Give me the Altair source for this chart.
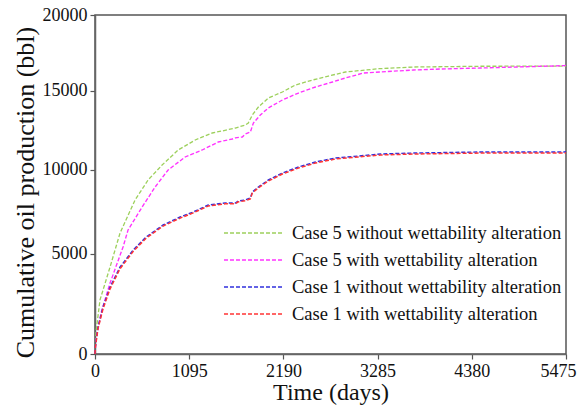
import altair as alt
import pandas as pd

# Series names, in legend order
SERIES = [
    "Case 5 without wettability alteration",
    "Case 5 with wettability alteration",
    "Case 1 without wettability alteration",
    "Case 1 with wettability alteration",
]
COLORS = ["#9dd05c", "#ff33ff", "#3030dd", "#ff3434"]
WIDTHS = [1.3, 1.5, 2.0, 2.0]

X_TICKS = [0, 1095, 2190, 3285, 4380, 5475]
Y_TICKS = [0, 5000, 10000, 15000, 20000]

# Cumulative oil production (bbl) against time (days)
case5_without_days = [0, 12, 58, 175, 291, 466, 617, 780, 967, 1165, 1363, 1479,
                      1631, 1747, 1782, 1829, 1899, 2015, 2178, 2330, 2528, 2714,
                      2912, 3300, 3704, 4485, 5452, 5475]
case5_without_oil = [0, 900, 2480, 4264, 6202, 8160, 9374, 10296, 11230, 11858,
                     12300, 12430, 12616, 12806, 12934, 13444, 13956, 14536, 14924,
                     15378, 15702, 15962, 16224, 16440, 16552, 16600, 16610, 16610]

case5_with_days = [0, 15, 70, 175, 326, 384, 548, 699, 850, 1048, 1246, 1433, 1596,
                   1631, 1712, 1747, 1806, 1841, 1922, 2015, 2178, 2365, 2563, 2761,
                   2912, 3122, 3704, 4019, 4485, 5452, 5475]
case5_with_oil = [0, 650, 1814, 3384, 5394, 6378, 7738, 8946, 9988, 10794, 11230,
                  11732, 11920, 11990, 12048, 12236, 12364, 12934, 13444, 13892,
                  14406, 14858, 15246, 15574, 15834, 16160, 16356, 16420, 16486,
                  16640, 16660]

case1_without_days = [0, 3, 35, 93, 175, 291, 443, 594, 792, 990, 1142, 1316, 1514,
                      1631, 1666, 1747, 1806, 1829, 1899, 2015, 2178, 2365, 2563,
                      2796, 3064, 3320, 3704, 4485, 5452, 5475]
case1_without_oil = [0, 243, 1128, 2118, 3168, 4264, 5220, 5972, 6672, 7144, 7440,
                     7858, 7978, 7978, 8098, 8160, 8280, 8642, 8946, 9374, 9802,
                     10174, 10482, 10732, 10856, 10980, 11040, 11106, 11110, 11120]

case1_with_days = [0, 3, 35, 93, 175, 291, 443, 594, 792, 990, 1142, 1316, 1514,
                   1631, 1666, 1747, 1806, 1829, 1899, 2015, 2178, 2365, 2563,
                   2796, 3064, 3320, 3704, 4485, 5452, 5475]
case1_with_oil = [0, 200, 1050, 2020, 3070, 4170, 5140, 5900, 6610, 7080, 7390,
                  7800, 7930, 7930, 8050, 8110, 8230, 8590, 8890, 9310, 9740, 10110,
                  10420, 10670, 10800, 10920, 10980, 11040, 11050, 11050]

frames = []
for name, days, oil in [
    (SERIES[0], case5_without_days, case5_without_oil),
    (SERIES[1], case5_with_days, case5_with_oil),
    (SERIES[2], case1_without_days, case1_without_oil),
    (SERIES[3], case1_with_days, case1_with_oil),
]:
    frames.append(pd.DataFrame({"series": name, "days": days, "oil": oil}))
data = pd.concat(frames, ignore_index=True)

FONT = "Liberation Serif"

lines = alt.Chart(data).mark_line(strokeDash=[4, 2]).encode(
    x=alt.X(
        "days:Q",
        scale=alt.Scale(domain=[0, 5475], nice=False),
        axis=alt.Axis(
            values=X_TICKS, title="Time (days)", format="d",
            titleFontSize=24, titlePadding=0,
            # pull the last label back inside the canvas edge
            labelOffset={"condition": {"test": "datum.value == 5475", "value": -8},
                         "value": 0},
        ),
    ),
    y=alt.Y(
        "oil:Q",
        scale=alt.Scale(type="pow", exponent=0.88, domain=[0, 20000], nice=False),
        axis=alt.Axis(
            values=Y_TICKS, title="Cumulative oil production (bbl)", format="d",
            titleFontSize=26, titlePadding=4, titleY=177,
        ),
    ),
    color=alt.Color(
        "series:N",
        scale=alt.Scale(domain=SERIES, range=COLORS),
        legend=alt.Legend(
            title=None, orient="none", legendX=148, legendY=207, padding=0,
            symbolType="M-3,0H3", symbolSize=400, symbolDash=[4, 2],
            symbolStrokeWidth=1.6, labelFont=FONT, labelFontSize=18.5,
            labelColor="#111", labelOffset=27, rowPadding=6, labelLimit=0,
        ),
    ),
    strokeWidth=alt.StrokeWidth(
        "series:N", scale=alt.Scale(domain=SERIES, range=WIDTHS), legend=None
    ),
    order=alt.Order("days:Q"),
)

chart = lines.properties(
    width=471,
    height=339,
    background="white",
    autosize=alt.AutoSizeParams(type="none"),
    padding={"left": 95, "top": 15, "right": 11, "bottom": 55},
).configure_view(
    stroke="#555", strokeWidth=1.5
).configure_axis(
    grid=False,
    domainColor="#666",
    domainWidth=1.5,
    tickColor="#555",
    tickSize=5,
    tickWidth=1.2,
    labelFont=FONT,
    labelFontSize=18,
    labelColor="#111",
    labelPadding=3,
    labelFlush=False,
    labelOverlap=False,
    titleFont=FONT,
    titleFontWeight="normal",
    titleColor="#111",
)

chart.save("out.html", embed_options={"renderer": "svg", "actions": False})
